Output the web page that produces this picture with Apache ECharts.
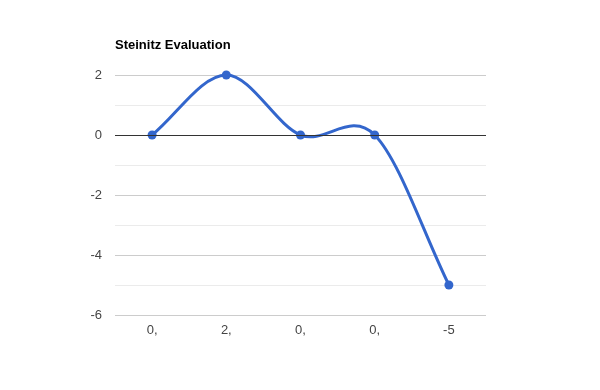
<!DOCTYPE html>
<html><head><meta charset="utf-8">
<script src="https://cdn.jsdelivr.net/npm/echarts@6/dist/echarts.min.js"></script>
<style>html,body{margin:0;padding:0;background:#fff}#c{width:600px;height:390px}</style>
</head><body><div id="c"></div>
<script>
const categories = ['0,', '2,', '0,', '0,', '-5'];
const values = [0, 2, 0, 0, -5];
const titleText = 'Steinitz Evaluation';

const FONT = 'Liberation Sans, Arial, sans-serif';
const chart = echarts.init(document.getElementById('c'), null, {renderer: 'canvas'});

// Catmull-Rom style curve segment through data points (mapped by the axes)
function renderSegment(params, api) {
  const i = params.dataIndex;
  const n = values.length;
  if (i >= n - 1) return null;
  const P = k => api.coord([k, values[k]]);
  const p0 = P(i), p1 = P(i + 1);
  const tan = k => {
    if (k === 0) { const a = P(0), b = P(1); return [b[0] - a[0], b[1] - a[1]]; }
    if (k === n - 1) { const a = P(n - 2), b = P(n - 1); return [b[0] - a[0], b[1] - a[1]]; }
    const a = P(k - 1), b = P(k + 1); return [(b[0] - a[0]) / 2, (b[1] - a[1]) / 2];
  };
  const t0 = tan(i), t1 = tan(i + 1);
  return {
    type: 'bezierCurve',
    shape: {
      x1: p0[0], y1: p0[1], x2: p1[0], y2: p1[1],
      cpx1: p0[0] + t0[0] / 3, cpy1: p0[1] + t0[1] / 3,
      cpx2: p1[0] - t1[0] / 3, cpy2: p1[1] - t1[1] / 3
    },
    style: {stroke: '#3366cc', lineWidth: 3, fill: null, lineCap: 'round'}
  };
}

chart.setOption({
  animation: false,
  textStyle: {fontFamily: FONT},
  title: {text: titleText, left: 115, top: 39, padding: 0,
    textStyle: {fontSize: 13, fontWeight: 'bold', color: '#000', fontFamily: FONT}},
  grid: {left: 115, right: 114, top: 75, bottom: 75},
  xAxis: {type: 'category', data: categories, boundaryGap: true,
    axisLine: {show: false}, axisTick: {show: false},
    axisLabel: {color: '#444', fontSize: 13, margin: 9}},
  yAxis: {type: 'value', min: -6, max: 2, interval: 2,
    axisLine: {show: false}, axisTick: {show: false},
    axisLabel: {color: '#444', fontSize: 13, margin: 13},
    splitLine: {lineStyle: {color: '#cccccc', width: 1}},
    minorTick: {show: false, splitNumber: 2},
    minorSplitLine: {show: true, lineStyle: {color: '#ebebeb', width: 1}}},
  series: [
    {type: 'custom', data: values.map((v, k) => [k, v]), renderItem: renderSegment,
      z: 3, silent: true, clip: false},
    {type: 'scatter', data: values, symbol: 'circle', symbolSize: 9,
      itemStyle: {color: '#3366cc', opacity: 1}, z: 4,
      markLine: {silent: true, symbol: 'none', label: {show: false},
        lineStyle: {color: '#333', width: 1, type: 'solid'},
        data: [{yAxis: 0}]}}
  ]
});
</script></body></html>
